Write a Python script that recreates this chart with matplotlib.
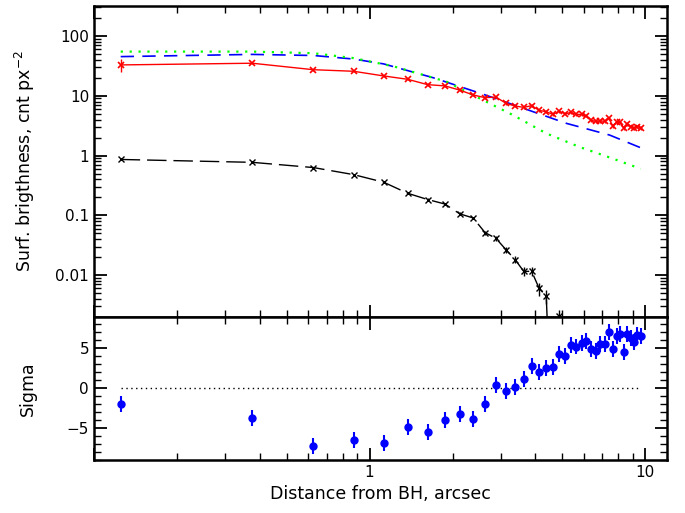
import numpy as np
import matplotlib
matplotlib.use('Agg')
import matplotlib.pyplot as plt
import matplotlib.ticker as mticker

#############################
## data

# radial bins, arcsec
radius = [0.125, 0.375, 0.625, 0.875, 1.125, 1.375, 1.625, 1.875, 2.125, 2.375,
          2.625, 2.875, 3.125, 3.375, 3.625, 3.875, 4.125, 4.375, 4.625, 4.875,
          5.125, 5.375, 5.625, 5.875, 6.125, 6.375, 6.625, 6.875, 7.125, 7.375,
          7.625, 7.875, 8.125, 8.375, 8.625, 8.875, 9.125, 9.375, 9.625]

# observed surface brightness (red)
sb_obs = [32.7, 34.9, 27.2, 25.6, 21.4, 18.8, 15.3, 14.6, 12.4, 10.3,
          9.27, 9.5, 7.47, 6.71, 6.39, 6.81, 5.69, 5.4, 4.87, 5.5,
          4.99, 5.24, 4.87, 4.87, 4.62, 3.87, 3.73, 3.8, 3.73, 4.2,
          3.14, 3.6, 3.6, 2.84, 3.36, 3.05, 2.84, 3.05, 2.92]
sb_obs_err = [8.0, 1.5, 1.2, 1.1, 0.9, 0.8, 0.7, 0.6, 0.55, 0.5,
              0.45, 0.45, 0.4, 0.35, 0.35, 0.35, 0.3, 0.3, 0.3, 0.3,
              0.28, 0.28, 0.27, 0.27, 0.26, 0.24, 0.24, 0.24, 0.23, 0.24,
              0.22, 0.22, 0.22, 0.2, 0.21, 0.2, 0.2, 0.2, 0.2]

# residual component (black), bins past the drop-off are not shown
r_bh = radius[:20]
sb_bh = [0.86, 0.77, 0.63, 0.48, 0.358, 0.234, 0.184, 0.155, 0.106, 0.0906,
         0.0515, 0.0413, 0.0267, 0.0182, 0.0116, 0.0116, 0.006, 0.0045, 1e-5, 0.0021]
sb_bh_err = [0.03, 0.025, 0.02, 0.015, 0.012, 0.009, 0.008, 0.007, 0.006, 0.005,
             0.004, 0.0035, 0.003, 0.0025, 0.002, 0.002, 0.0015, 0.0012, 0.0, 0.0005]

# model curves
r_mod1 = [0.125, 0.375, 0.625, 0.875, 1.125, 1.7, 2.58, 3.6, 5.18, 7.43, 9.63]
sb_mod1 = [45.0, 49.0, 47.0, 41.0, 34.0, 20.0, 10.6, 6.2, 3.45, 2.2, 1.35]   # blue dashed
r_mod2 = [0.125, 0.375, 0.625, 0.875, 1.22, 1.9, 2.51, 3.31, 4.38, 5.78, 7.63, 9.63]
sb_mod2 = [54.6, 54.6, 51.3, 42.5, 31.0, 17.2, 9.0, 4.76, 2.34, 1.39, 0.89, 0.6]  # green dotted

# residuals in sigma
sigma = [-2.04, -3.75, -7.29, -6.54, -6.87, -4.87, -5.54, -4.04, -3.33, -3.96,
         -2.08, 0.29, -0.41, 0.13, 1.09, 2.71, 2.0, 2.5, 2.54, 4.21,
         4.0, 5.29, 5.16, 5.63, 5.83, 4.88, 4.63, 5.46, 5.42, 6.92,
         4.88, 6.5, 6.71, 4.5, 6.71, 6.17, 5.75, 6.63, 6.5]
sigma_err = 1.0

#############################

plt.rcParams['font.family'] = 'DejaVu Sans'
fig = plt.figure(figsize=(6.85, 5.13), dpi=100)
ax1 = fig.add_axes([0.1372, 0.382, 0.8365, 0.607])
ax2 = fig.add_axes([0.1372, 0.1033, 0.8365, 0.2787], sharex=ax1)

## top panel
ax1.plot(r_mod2, sb_mod2, color='#00ff00', lw=1.6, ls=(0, (1, 3)), zorder=3)
ax1.plot(r_mod1, sb_mod1, color='#0000ff', lw=1.2, ls=(0, (8, 5)), zorder=2)
ax1.errorbar(radius, sb_obs, yerr=sb_obs_err, color='#ff0000', lw=1.0,
             marker='x', ms=4, mew=1.2, elinewidth=1.0, capsize=0, zorder=4)
ax1.errorbar(r_bh, sb_bh, yerr=sb_bh_err, color='black', lw=1.0, ls=(0, (14, 5)),
             marker='x', ms=4, mew=1.0, elinewidth=1.0, capsize=0, zorder=4)

ax1.set_xscale('log')
ax1.set_yscale('log')
ax1.set_xlim(0.1, 12)
ax1.set_ylim(0.002, 320)
ax1.yaxis.set_major_formatter(mticker.FuncFormatter(lambda v, p: '%g' % v))
ax1.set_ylabel('Surf. brigthness, cnt px$^{-2}$', fontsize=12.5)
plt.setp(ax1.get_xticklabels(), visible=False)

## bottom panel
ax2.plot([radius[0], radius[-1]], [0, 0], color='black', lw=1.0, ls=(0, (1, 2.5)))
ax2.errorbar(radius, sigma, yerr=sigma_err, fmt='o', color='#0000ff', ms=5,
             elinewidth=1.5, capsize=0)
ax2.set_ylim(-9.05, 8.85)
ax2.yaxis.set_major_locator(mticker.MultipleLocator(5))
ax2.yaxis.set_minor_locator(mticker.MultipleLocator(1))
# no label on the 0.1 tick at the left edge
ax2.xaxis.set_major_formatter(mticker.FuncFormatter(lambda v, p: '%g' % v if v > 0.5 else ''))
ax2.xaxis.set_minor_formatter(mticker.NullFormatter())
ax2.set_ylabel('Sigma', fontsize=12.5)
ax2.set_xlabel('Distance from BH, arcsec', fontsize=12.5)

for ax in (ax1, ax2):
    for s in ax.spines.values():
        s.set_linewidth(1.8)
    ax.tick_params(which='both', direction='in', top=True, right=True, labelsize=11)
    ax.tick_params(which='major', length=9, width=1.3)
    ax.tick_params(which='minor', length=5, width=1.0)

ax1.yaxis.set_label_coords(-0.1, 0.5)
ax2.yaxis.set_label_coords(-0.1, 0.5)

fig.savefig('out.png', dpi=100)
